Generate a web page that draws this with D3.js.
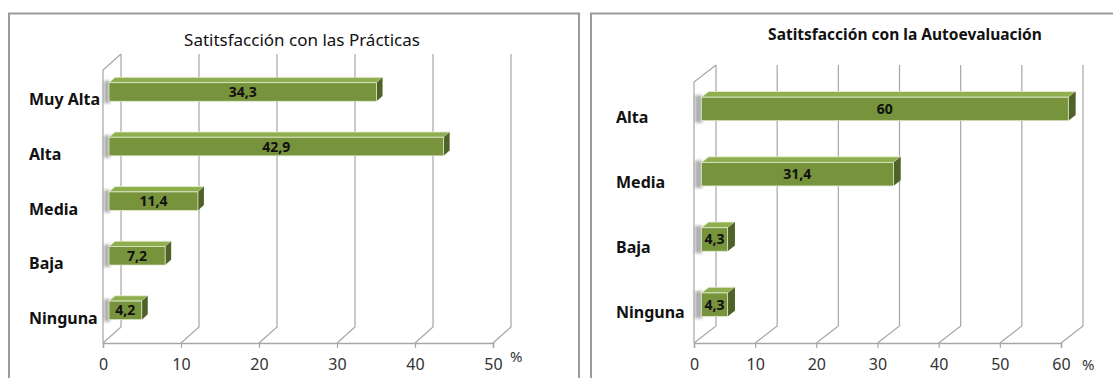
<!DOCTYPE html>
<html>
<head>
<meta charset="utf-8">
<script src="https://cdn.jsdelivr.net/npm/d3@7"></script>
<style>
  body { margin: 0; background: #fff; }
  svg { display: block; font-family: "Noto Sans", "Open Sans", sans-serif; }
</style>
</head>
<body>
<div class="charts"></div>
<script>

// Data - Satisfacción con las Prácticas
var catsPracticas = ["Muy Alta", "Alta", "Media", "Baja", "Ninguna"];
var valsPracticas = [34.3, 42.9, 11.4, 7.2, 4.2];
var ticksPracticas = [0, 10, 20, 30, 40, 50];

// Data - Satisfacción con la Autoevaluación
var catsAuto = ["Alta", "Media", "Baja", "Ninguna"];
var valsAuto = [60, 31.4, 4.3, 4.3];
var ticksAuto = [0, 10, 20, 30, 40, 50, 60];

var W = 1113, H = 378;

// Spanish decimal comma
var locale = d3.formatLocale({ decimal: ",", thousands: ".", grouping: [3], currency: ["", "€"] });
var fmt = locale.format(".1~f");

var svg = d3.select(".charts")
    .append("svg")
        .attr("width", W)
        .attr("height", H);

var defs = svg.append("defs");
defs.append("filter")
    .attr("id", "blur")
    .attr("x", "-50%").attr("y", "-50%").attr("width", "200%").attr("height", "200%")
  .append("feGaussianBlur")
    .attr("stdDeviation", 1.6);

var gridColor = "#a6a6a6";

function makeChart(opt) {

    var g = svg.append("g");

    // Frame around the chart
    g.append("path")
        .attr("d", opt.frame)
        .attr("fill", "none")
        .attr("stroke", "#9a9a9a")
        .attr("stroke-width", 2);

    // Title
    g.append("text")
        .attr("x", opt.titleX)
        .attr("y", opt.titleY)
        .attr("text-anchor", "middle")
        .style("font-size", opt.titleSize)
        .style("font-weight", opt.titleWeight)
        .style("fill", "#111")
        .text(opt.title);

    var x = d3.scaleLinear()
        .domain([0, d3.max(opt.ticks)])
        .range([opt.left, opt.right]);

    var y = d3.scaleBand()
        .domain(opt.cats)
        .range([opt.top, opt.base])
        .paddingInner(opt.pad)
        .paddingOuter(opt.pad / 2);

    var dx = opt.dx, dy = opt.dy;

    // Left wall
    g.append("path")
        .attr("d", "M" + x(0) + "," + opt.base + "V" + opt.top +
                   "L" + (x(0) + dx) + "," + (opt.top + dy))
        .attr("fill", "none")
        .attr("stroke", gridColor)
        .attr("stroke-width", 1.2);

    // Back gridlines and floor diagonals
    var grid = g.append("g").attr("class", "grid");
    opt.ticks.forEach(function(t) {
        grid.append("path")
            .attr("d", "M" + x(t) + "," + opt.base +
                       "L" + (x(t) + dx) + "," + (opt.base + dy) +
                       "V" + (opt.top + dy))
            .attr("fill", "none")
            .attr("stroke", gridColor)
            .attr("stroke-width", 1.2);
    });

    // Front x axis with ticks
    var xAxis = d3.axisBottom(x)
        .tickValues(opt.ticks)
        .tickSize(5)
        .tickPadding(11)
        .tickFormat(function(d) { return d; });

    var ax = g.append("g")
        .attr("transform", "translate(0," + opt.base + ")")
        .call(xAxis);
    ax.select(".domain").attr("stroke", gridColor).attr("stroke-width", 1.4);
    ax.selectAll(".tick line").attr("stroke", gridColor).attr("stroke-width", 1.2);
    ax.selectAll(".tick text")
        .style("font-size", "16px")
        .style("fill", "#333")
        .style("font-family", "\"Noto Sans\", sans-serif");

    g.append("text")
        .attr("x", opt.pctX)
        .attr("y", opt.pctY)
        .style("font-size", "15px")
        .style("fill", "#333")
        .text("%");

    // Category labels
    g.selectAll(".cat")
        .data(opt.cats)
        .enter().append("text")
            .attr("class", "cat")
            .attr("x", opt.labelX)
            .attr("y", function(d) { return y(d) + y.bandwidth() / 2 + 8; })
            .style("font-size", "16px")
            .style("font-weight", "bold")
            .style("fill", "#111")
            .text(function(d) { return d; });

    // Bars sit in the middle third of the depth
    var bdx = dx / 3, bdy = dy / 3;
    var bh = y.bandwidth();

    var bars = g.selectAll(".bar")
        .data(opt.vals)
        .enter().append("g")
            .attr("class", "bar")
            .attr("transform", function(d, i) {
                return "translate(" + bdx + "," + (y(opt.cats[i]) + bdy) + ")";
            });

    // soft shadow on the wall
    bars.append("rect")
        .attr("x", x(0) - bdx + 1)
        .attr("y", -2)
        .attr("width", bdx)
        .attr("height", bh + 4)
        .attr("fill", "#9a9a9a")
        .attr("opacity", 0.8)
        .attr("filter", "url(#blur)");

    // top face
    bars.append("path")
        .attr("d", function(d) {
            return "M" + x(0) + ",0L" + (x(0) + bdx) + "," + bdy +
                   "H" + (x(d) + bdx) + "L" + x(d) + ",0Z";
        })
        .attr("fill", "#8fae4e")
        .attr("stroke", "#e8f0d8")
        .attr("stroke-width", 0.8);

    // right side face
    bars.append("path")
        .attr("d", function(d) {
            return "M" + x(d) + ",0L" + (x(d) + bdx) + "," + bdy +
                   "V" + (bh + bdy) + "L" + x(d) + "," + bh + "Z";
        })
        .attr("fill", "#4f6228");

    // front face
    bars.append("rect")
        .attr("x", x(0))
        .attr("y", 0)
        .attr("width", function(d) { return x(d) - x(0); })
        .attr("height", bh)
        .attr("fill", "#77933c")
        .attr("stroke", "#dfe8cc")
        .attr("stroke-width", 0.8);

    bars.append("text")
        .attr("x", function(d) { return (x(0) + x(d)) / 2; })
        .attr("y", bh / 2 + 5)
        .attr("text-anchor", "middle")
        .style("font-size", "14px")
        .style("font-weight", "bold")
        .style("fill", "#111")
        .text(function(d) { return fmt(d); });
}

makeChart({
    title: "Satitsfacción con las Prácticas",
    titleX: 302, titleY: 46, titleSize: "17px", titleWeight: "normal",
    cats: catsPracticas, vals: valsPracticas, ticks: ticksPracticas,
    left: 103, right: 493, top: 70, base: 343,
    dx: 18, dy: -16, pad: 0.66,
    labelX: 29, pctX: 510, pctY: 362,
    frame: "M9,378V13.5H579V378"
});

makeChart({
    title: "Satitsfacción con la Autoevaluación",
    titleX: 905, titleY: 40, titleSize: "15.5px", titleWeight: "bold",
    cats: catsAuto, vals: valsAuto, ticks: ticksAuto,
    left: 694, right: 1061, top: 82, base: 343,
    dx: 22, dy: -17, pad: 0.64,
    labelX: 616, pctX: 1082, pctY: 370,
    frame: "M591,378V13.5H1113"
});

</script>
</body>
</html>
